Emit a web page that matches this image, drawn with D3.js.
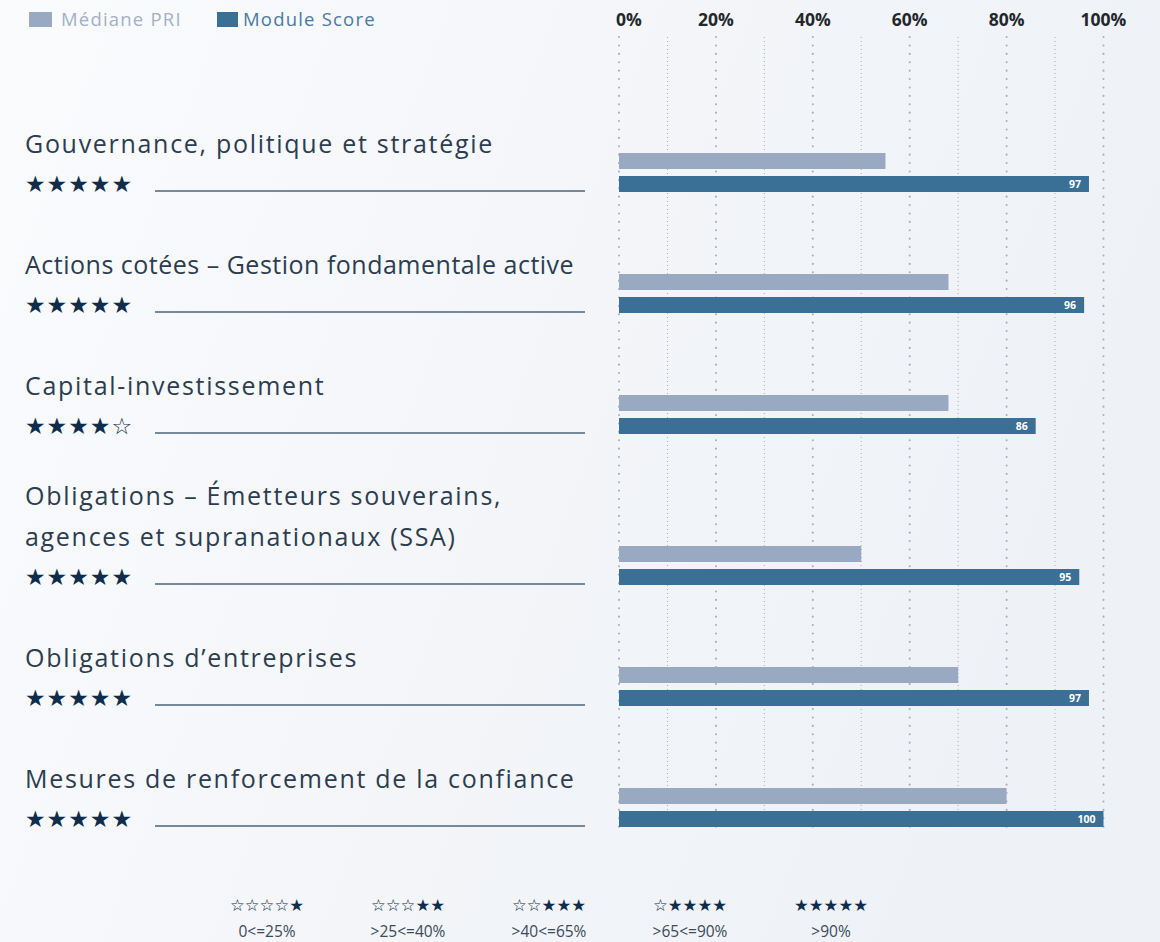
<!DOCTYPE html>
<html>
<head>
<meta charset="utf-8">
<script src="https://cdn.jsdelivr.net/npm/d3@7"></script>
<style>
  html, body { margin: 0; padding: 0; }
  body { width: 1160px; height: 942px; overflow: hidden; }
</style>
</head>
<body>
<svg id="chart" width="1160" height="942"></svg>
<script>
// Data
const categories = [
  ["Gouvernance, politique et stratégie"],
  ["Actions cotées – Gestion fondamentale active"],
  ["Capital-investissement"],
  ["Obligations – Émetteurs souverains,", "agences et supranationaux (SSA)"],
  ["Obligations d’entreprises"],
  ["Mesures de renforcement de la confiance"]
];
const medianePRI = [55, 68, 68, 50, 70, 80];
const moduleScore = [97, 96, 86, 95, 97, 100];
const starRatings = [5, 5, 4, 5, 5, 5];
const tickValues = [0, 20, 40, 60, 80, 100];
const gridValues = [0, 10, 20, 30, 40, 50, 60, 70, 80, 90, 100];
const seriesNames = ["Médiane PRI", "Module Score"];
const ratingLegend = [
  { stars: 1, label: "0<=25%" },
  { stars: 2, label: ">25<=40%" },
  { stars: 3, label: ">40<=65%" },
  { stars: 4, label: ">65<=90%" },
  { stars: 5, label: ">90%" }
];

const FONT = "'Open Sans', Lato, sans-serif";
const greyCol = "#9aa9c2", blueCol = "#3b7096", navy = "#0f2d4b", textCol = "#2c3d50";

const svg = d3.select("#chart");

// background gradient
const defs = svg.append("defs");
const grad = defs.append("linearGradient").attr("id", "bg")
  .attr("x1", "0%").attr("y1", "0%").attr("x2", "100%").attr("y2", "30%");
grad.append("stop").attr("offset", "0%").attr("stop-color", "#fafbfd");
grad.append("stop").attr("offset", "100%").attr("stop-color", "#eef1f6");
svg.append("rect").attr("width", 1160).attr("height", 942).attr("fill", "url(#bg)");

const x = d3.scaleLinear().domain([0, 100]).range([619, 1103.5]);

// group vertical positions (two-line labels take extra room)
const barH = 16;
let yTops = [];
let yCur = 176;
categories.forEach((c, i) => {
  if (i > 0) yCur += 121 + (c.length - 1) * 30;
  yTops.push(yCur);
});

// gridlines
const gridTop = 37, gridBottom = 828;
svg.append("g").selectAll("line").data(gridValues).join("line")
  .attr("x1", d => x(d)).attr("x2", d => x(d))
  .attr("y1", gridTop).attr("y2", gridBottom)
  .attr("stroke", "#a9adb3")
  .attr("stroke-width", d => d % 20 === 0 ? 2 : 1)
  .attr("stroke-linecap", d => d % 20 === 0 ? "round" : "butt")
  .attr("stroke-dasharray", d => d % 20 === 0 ? "0.1 8.3" : "1 3");

// axis labels on top
svg.append("g").selectAll("text").data(tickValues).join("text")
  .attr("x", d => x(d) + (d === 0 ? 10 : 0))
  .attr("y", 26)
  .attr("text-anchor", "middle")
  .attr("font-family", FONT)
  .attr("font-weight", "bold")
  .attr("font-size", 17.5)
  .attr("fill", "#23272c")
  .text(d => d + "%");

// legend
const legend = svg.append("g");
[greyCol, blueCol].forEach((c, i) => {
  const lx = i === 0 ? 29 : 217;
  legend.append("rect").attr("x", lx).attr("y", 12).attr("width", i === 0 ? 23 : 21).attr("height", 15).attr("fill", c);
  legend.append("text").attr("x", lx + (i === 0 ? 32 : 26)).attr("y", 26)
    .attr("font-family", FONT).attr("font-size", 18.5)
    .attr("letter-spacing", 1.2)
    .attr("fill", i === 0 ? "#a3b0c6" : "#4a7ba0")
    .text(seriesNames[i]);
});

// bars
const groups = svg.append("g").selectAll("g").data(categories).join("g");

groups.append("rect")
  .attr("x", x(0)).attr("y", (d, i) => yTops[i] - 23)
  .attr("width", (d, i) => x(medianePRI[i]) - x(0))
  .attr("height", barH).attr("fill", greyCol);

groups.append("rect")
  .attr("x", x(0)).attr("y", (d, i) => yTops[i])
  .attr("width", (d, i) => x(moduleScore[i]) - x(0))
  .attr("height", barH).attr("fill", blueCol);

groups.append("text")
  .attr("x", (d, i) => x(moduleScore[i]) - 8)
  .attr("y", (d, i) => yTops[i] + 12)
  .attr("text-anchor", "end")
  .attr("font-family", FONT).attr("font-weight", "bold").attr("font-size", 10.5)
  .attr("fill", "#ffffff")
  .text((d, i) => moduleScore[i]);

// category labels (the "Actions" label is set tighter in the original)
groups.each(function (lines, i) {
  const g = d3.select(this);
  lines.forEach((t, j) => {
    g.append("text")
      .attr("x", 25)
      .attr("y", yTops[i] - 23 - (lines.length - 1 - j) * 41)
      .attr("font-family", FONT).attr("font-size", 25)
      .attr("letter-spacing", i === 1 ? 0.5 : 1.7)
      .attr("fill", textCol)
      .text(t);
  });
  const stars = d3.range(5).map(k => k < starRatings[i] ? "★" : "☆").join("");
  g.append("text")
    .attr("x", 25).attr("y", yTops[i] + 16)
    .attr("font-family", "'DejaVu Sans', sans-serif").attr("font-size", 23)
    .attr("letter-spacing", 1)
    .attr("fill", navy)
    .text(stars);
  g.append("line")
    .attr("x1", 155).attr("x2", 585)
    .attr("y1", yTops[i] + 15).attr("y2", yTops[i] + 15)
    .attr("stroke", "#4c6478").attr("stroke-width", 1.5);
});

// rating legend at bottom
const rl = svg.append("g").selectAll("g").data(ratingLegend).join("g")
  .attr("transform", (d, i) => `translate(${267 + i * 141},0)`);
rl.append("text")
  .attr("y", 911).attr("text-anchor", "middle")
  .attr("font-family", "'DejaVu Sans', sans-serif").attr("font-size", 16.5)
  .attr("fill", navy)
  .text(d => d3.range(5).map(k => k < 5 - d.stars ? "☆" : "★").join(""));
rl.append("text")
  .attr("y", 937).attr("text-anchor", "middle")
  .attr("font-family", FONT).attr("font-size", 15.5)
  .attr("fill", "#3a4b5c")
  .text(d => d.label);
</script>
</body>
</html>
